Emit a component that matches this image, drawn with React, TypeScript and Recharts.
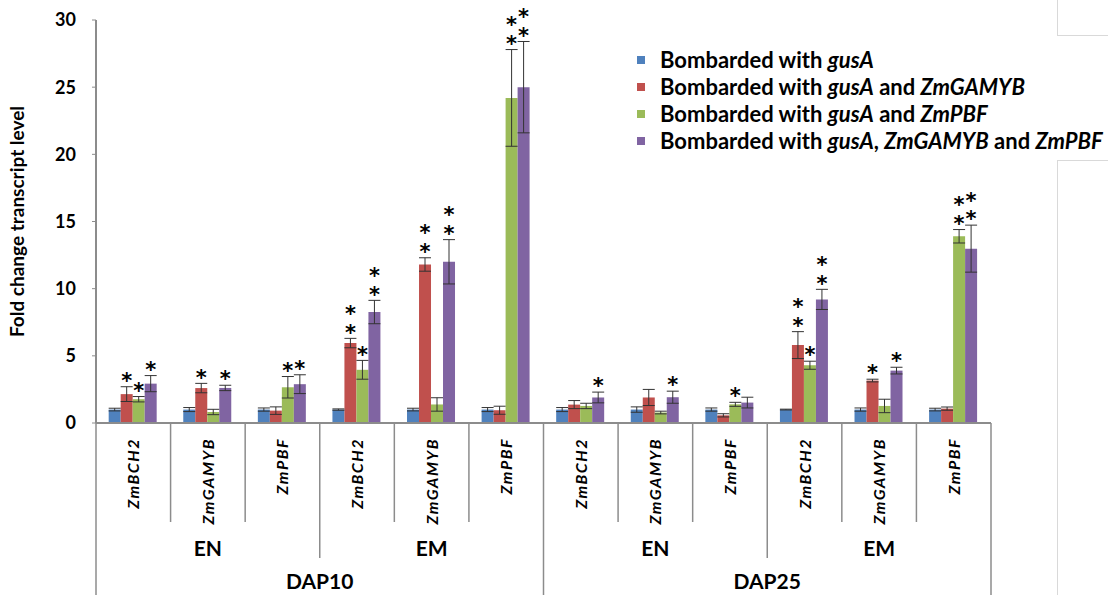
import React from 'react';
import { BarChart, Bar, XAxis, YAxis, ErrorBar, LabelList, Legend } from 'recharts';

// x categories: 2 stages x 2 tissues x 3 genes
const genes = ['ZmBCH2', 'ZmGAMYB', 'ZmPBF', 'ZmBCH2', 'ZmGAMYB', 'ZmPBF', 'ZmBCH2', 'ZmGAMYB', 'ZmPBF', 'ZmBCH2', 'ZmGAMYB', 'ZmPBF'];
const tissues = ['EN', 'EM', 'EN', 'EM'];
const stages = ['DAP10', 'DAP25'];
const yTicks = [0, 5, 10, 15, 20, 25, 30];

// fold change values
const gusA = [1.0, 1.0, 1.0, 1.0, 1.0, 1.0, 1.0, 1.0, 1.0, 1.0, 1.0, 1.0];
const gusAErr = [0.1, 0.15, 0.12, 0.05, 0.1, 0.15, 0.15, 0.2, 0.12, 0.03, 0.12, 0.1];
const gamyb = [2.15, 2.6, 0.92, 5.95, 11.8, 0.95, 1.37, 1.9, 0.57, 5.8, 3.16, 1.07];
const gamybErr = [0.55, 0.35, 0.28, 0.35, 0.5, 0.3, 0.3, 0.6, 0.12, 1.0, 0.1, 0.12];
const pbf = [1.77, 0.82, 2.66, 3.96, 1.38, 24.2, 1.27, 0.78, 1.39, 4.3, 1.27, 13.9];
const pbfErr = [0.2, 0.2, 0.8, 0.7, 0.5, 3.6, 0.2, 0.1, 0.15, 0.3, 0.5, 0.5];
const both = [2.93, 2.61, 2.89, 8.26, 12.0, 25.0, 1.9, 1.92, 1.52, 9.2, 3.9, 12.98];
const bothErr = [0.6, 0.2, 0.7, 0.87, 1.65, 3.4, 0.4, 0.45, 0.4, 0.75, 0.25, 1.75];

// number of asterisks above each bar
const gamybSig = [1, 1, 0, 2, 2, 0, 0, 0, 0, 2, 1, 0];
const pbfSig = [1, 0, 1, 1, 0, 2, 0, 0, 1, 1, 0, 2];
const bothSig = [1, 1, 1, 2, 2, 2, 1, 1, 0, 2, 1, 2];

const COLORS = ['#4F81BD', '#C0504D', '#9BBB59', '#8064A2'];

// legend text, italic parts flagged
const legendParts: [string, boolean][][] = [
  [['Bombarded with ', false], ['gusA', true]],
  [['Bombarded with ', false], ['gusA', true], [' and ', false], ['ZmGAMYB', true]],
  [['Bombarded with ', false], ['gusA', true], [' and ', false], ['ZmPBF', true]],
  [['Bombarded with ', false], ['gusA', true], [', ', false], ['ZmGAMYB', true], [' and ', false], ['ZmPBF', true]],
];

const data = genes.map((g, i) => ({
  gene: g,
  gusA: gusA[i], gusAErr: gusAErr[i],
  gamyb: gamyb[i], gamybErr: gamybErr[i], gamybSig: gamybSig[i],
  pbf: pbf[i], pbfErr: pbfErr[i], pbfSig: pbfSig[i],
  both: both[i], bothErr: bothErr[i], bothSig: bothSig[i],
}));

const FONT = 'Lato, "Open Sans", sans-serif';

const makeStars = (vals: number[], errs: number[]) => (props: any) => {
  const { x, y, width, height, value, index } = props;
  if (!value) return null;
  const pxPerUnit = height / vals[index];
  const errTop = y - errs[index] * pxPerUnit;
  const cx = x + width / 2;
  const fs = 21;
  const out = [];
  for (let k = 0; k < value; k++) {
    const cy = errTop - 11 - k * 18.5;
    out.push(
      <text key={k} x={cx} y={cy + fs * 0.58} textAnchor="middle" fontSize={fs} fontWeight="bold"
        fontFamily="DejaVu Sans" fill="#000">*</text>
    );
  }
  return <g>{out}</g>;
};

const GeneTick = (props: any) => {
  const { x, y, payload, index } = props;
  const i = payload.index ?? index;
  const half = payload.offset ?? 37.3;
  const xl = x - half;
  const xr = x + half;
  const depth = i % 6 === 0 ? 172 : i % 3 === 0 ? 135 : 99;
  const lc = '#8c8c8c';
  return (
    <g>
      <line x1={xl} y1={y} x2={xl} y2={y + depth} stroke={lc} strokeWidth={1.5} />
      {i === genes.length - 1 && <line x1={xr} y1={y} x2={xr} y2={y + 172} stroke={lc} strokeWidth={1.5} />}
      <text transform={`translate(${x + 6},${y + 15}) rotate(-90)`} textAnchor="end" fontSize={16}
        fontWeight="bold" fontStyle="italic" fontFamily={FONT} letterSpacing={1.5} fill="#000">
        {payload.value}
      </text>
      {i % 3 === 1 && (
        <text x={x} y={y + 133} textAnchor="middle" fontSize={21} fontWeight="bold" fontFamily={FONT} fill="#000">
          {tissues[Math.floor(i / 3)]}
        </text>
      )}
      {i % 6 === 2 && (
        <text x={xr} y={y + 166} textAnchor="middle" fontSize={21} fontWeight="bold" fontFamily={FONT} fill="#000">
          {stages[Math.floor(i / 6)]}
        </text>
      )}
    </g>
  );
};

const LegendBox = () => (
  <div style={{ fontFamily: FONT, fontWeight: 'bold', fontSize: 22, color: '#000' }}>
    {legendParts.map((parts, r) => (
      <div key={r} style={{ height: 27, display: 'flex', alignItems: 'center', whiteSpace: 'nowrap' }}>
        <span style={{ width: 8, height: 8, background: COLORS[r], display: 'inline-block', marginRight: 15 }} />
        <span>
          {parts.map(([t, it], j) => (
            <span key={j} style={{ fontStyle: it ? 'italic' : 'normal' }}>{t}</span>
          ))}
        </span>
      </div>
    ))}
  </div>
);

const App: React.FC = () => {
  const errProps = { width: 6, stroke: '#333', strokeWidth: 1, direction: 'y' as const };
  return (
    <div style={{ position: 'absolute', left: 0, top: 0, width: 1108, height: 595, background: '#fff', fontFamily: FONT }}>
      <BarChart width={1108} height={595} data={data} margin={{ top: 20, right: 117, bottom: 0, left: 0 }}
        barCategoryGap="17%" barGap={0}>
        <XAxis dataKey="gene" interval={0} height={172} tickSize={0} tickMargin={0}
          axisLine={{ stroke: '#8c8c8c', strokeWidth: 2 }} tickLine={false} tick={<GeneTick />} />
        <YAxis width={96} domain={[0, 30]} ticks={yTicks} tickSize={4} tickMargin={16}
          axisLine={{ stroke: '#8c8c8c', strokeWidth: 2 }} tickLine={{ stroke: '#8c8c8c' }}
          tick={{ fill: '#000', fontSize: 18, fontWeight: 'bold', fontFamily: FONT }}
          label={{ value: 'Fold change transcript level', angle: -90, position: 'insideLeft', dx: 12,
            style: { fill: '#000', fontSize: 19, fontWeight: 'bold', fontFamily: FONT, textAnchor: 'middle' } }} />
        <Legend layout="vertical" align="center" verticalAlign="middle" content={<LegendBox />}
          wrapperStyle={{ position: 'absolute', left: 637, top: 46, width: 470 }} />
        <Bar dataKey="gusA" fill={COLORS[0]} isAnimationActive={false}>
          <ErrorBar dataKey="gusAErr" {...errProps} />
        </Bar>
        <Bar dataKey="gamyb" fill={COLORS[1]} isAnimationActive={false}>
          <ErrorBar dataKey="gamybErr" {...errProps} />
          <LabelList dataKey="gamybSig" content={makeStars(gamyb, gamybErr)} />
        </Bar>
        <Bar dataKey="pbf" fill={COLORS[2]} isAnimationActive={false}>
          <ErrorBar dataKey="pbfErr" {...errProps} />
          <LabelList dataKey="pbfSig" content={makeStars(pbf, pbfErr)} />
        </Bar>
        <Bar dataKey="both" fill={COLORS[3]} isAnimationActive={false}>
          <ErrorBar dataKey="bothErr" {...errProps} />
          <LabelList dataKey="bothSig" content={makeStars(both, bothErr)} />
        </Bar>
      </BarChart>
      {/* faint frame edges of the original plot area */}
      <div style={{ position: 'absolute', left: 1057, top: 0, width: 51, height: 35, borderLeft: '1px solid #d9d9d9', borderBottom: '1px solid #d9d9d9' }} />
      <div style={{ position: 'absolute', left: 1057, top: 160, width: 51, height: 435, borderLeft: '1px solid #d9d9d9', borderTop: '1px solid #d9d9d9' }} />
    </div>
  );
};

export default App;
